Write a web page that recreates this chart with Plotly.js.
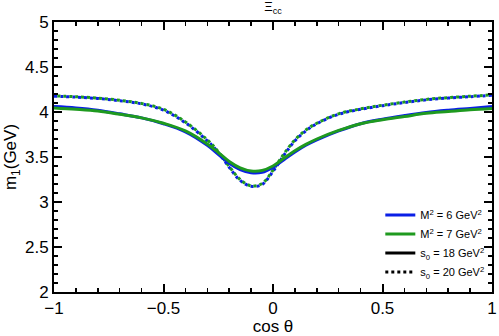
<!DOCTYPE html>
<html>
<head>
<meta charset="utf-8">
<script src="https://cdn.plot.ly/plotly-3.0.1.min.js"></script>
<style>
  html, body { margin: 0; padding: 0; background: #fff; }
  #chart { width: 499px; height: 336px; }
</style>
</head>
<body>
<div id="chart"></div>
<script>
// cos(theta) grid shared by all curves
var cosTheta = [-1, -0.9, -0.8, -0.7, -0.6, -0.5, -0.4, -0.3, -0.25, -0.2, -0.15, -0.1, -0.05,
	0, 0.05, 0.1, 0.15, 0.2, 0.3, 0.4, 0.5, 0.6, 0.7, 0.8, 0.9, 1];

// s0 = 18 GeV^2 (solid)
var m6s18 = [4.06, 4.045, 4.02, 3.98, 3.935, 3.87, 3.78, 3.63, 3.53, 3.43, 3.36, 3.325, 3.33,
	3.385, 3.47, 3.555, 3.63, 3.69, 3.79, 3.87, 3.92, 3.96, 3.995, 4.02, 4.04, 4.06];
var m7s18 = [4.045, 4.03, 4.01, 3.975, 3.935, 3.875, 3.79, 3.645, 3.55, 3.45, 3.38, 3.345, 3.35,
	3.40, 3.485, 3.57, 3.64, 3.70, 3.795, 3.87, 3.915, 3.95, 3.985, 4.005, 4.025, 4.04];

// s0 = 20 GeV^2 (dotted)
var m6s20 = [4.175, 4.165, 4.15, 4.125, 4.09, 4.02, 3.88, 3.68, 3.55, 3.385, 3.24, 3.175, 3.195,
	3.34, 3.52, 3.68, 3.79, 3.87, 3.975, 4.03, 4.07, 4.105, 4.135, 4.155, 4.17, 4.185];
var m7s20 = [4.18, 4.17, 4.155, 4.13, 4.095, 4.03, 3.89, 3.69, 3.56, 3.395, 3.25, 3.18, 3.205,
	3.355, 3.535, 3.69, 3.80, 3.875, 3.98, 4.035, 4.075, 4.11, 4.14, 4.16, 4.175, 4.19];

var BLUE = '#0a1fe6';
var GREEN = '#1f9a1f';

var traces = [
	{x: cosTheta, y: m6s20, mode: 'lines', line: {color: BLUE, width: 3, dash: '3px,3px', shape: 'spline'}, showlegend: false},
	{x: cosTheta, y: m7s20, mode: 'lines', line: {color: GREEN, width: 3, dash: '0px,3px,3px,0px', shape: 'spline'}, showlegend: false},
	{x: cosTheta, y: m6s18, mode: 'lines', line: {color: BLUE, width: 3, shape: 'spline'}, showlegend: false},
	{x: cosTheta, y: m7s18, mode: 'lines', line: {color: GREEN, width: 3, shape: 'spline'}, showlegend: false},
	// legend-only entries
	{x: [null], y: [null], mode: 'lines', name: 'M<sup>2</sup> = 6 GeV<sup>2</sup>', line: {color: BLUE, width: 3}},
	{x: [null], y: [null], mode: 'lines', name: 'M<sup>2</sup> = 7 GeV<sup>2</sup>', line: {color: GREEN, width: 3}},
	{x: [null], y: [null], mode: 'lines', name: 's<sub>0</sub> = 18 GeV<sup>2</sup>', line: {color: 'black', width: 3}},
	{x: [null], y: [null], mode: 'lines', name: 's<sub>0</sub> = 20 GeV<sup>2</sup>', line: {color: 'black', width: 3, dash: '3px,3px'}},
];

var axisCommon = {
	showline: true,
	linecolor: 'black',
	linewidth: 2,
	mirror: 'ticks',
	ticks: 'inside',
	ticklen: 8,
	tickwidth: 2,
	tickcolor: 'black',
	showgrid: false,
	zeroline: false,
	tickfont: {size: 17, color: 'black'},
};

var layout = {
	width: 499,
	height: 336,
	margin: {l: 54, r: 7, t: 22, b: 44},
	paper_bgcolor: 'white',
	plot_bgcolor: 'white',
	font: {family: 'Liberation Sans, Arial, sans-serif', color: 'black'},
	title: {text: 'Ξ<sub>cc</sub>', font: {size: 13}, x: 0.5, xref: 'paper'},
	xaxis: Object.assign({}, axisCommon, {
		range: [-1, 1],
		dtick: 0.5,
		tick0: -1,
		minor: {ticks: 'inside', dtick: 0.1, ticklen: 4, tickwidth: 1.5, tickcolor: 'black'},
		title: {text: 'cos θ', font: {size: 17}, standoff: 2},
	}),
	yaxis: Object.assign({}, axisCommon, {
		range: [2, 5],
		dtick: 0.5,
		tick0: 2,
		minor: {ticks: 'inside', dtick: 0.1, ticklen: 4, tickwidth: 1.5, tickcolor: 'black'},
		title: {text: 'm<sub>1</sub>(GeV)', font: {size: 17}, standoff: 4},
	}),
	legend: {
		x: 0.745, y: 0.02, xanchor: 'left', yanchor: 'bottom',
		bgcolor: 'rgba(0,0,0,0)',
		font: {size: 11},
		tracegroupgap: 0,
	},
};

Plotly.newPlot('chart', traces, layout, {displayModeBar: false, staticPlot: true});
</script>
</body>
</html>
